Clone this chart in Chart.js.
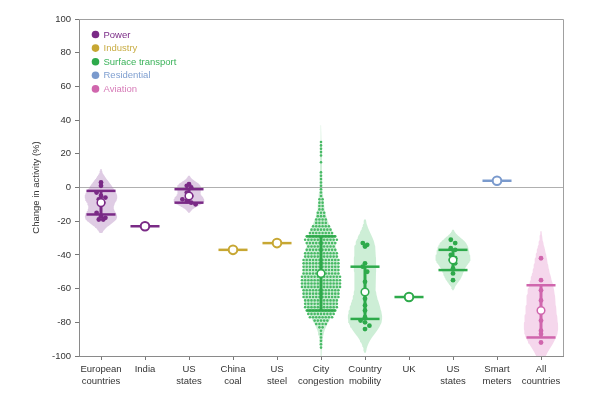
<!DOCTYPE html>
<html>
<head>
<meta charset="utf-8">
<script src="https://cdn.jsdelivr.net/npm/chart.js@4.4.0/dist/chart.umd.min.js"></script>
<style>
  html, body { margin: 0; padding: 0; background: #fff; }
</style>
</head>
<body>
<canvas id="chart" width="594" height="393"></canvas>
<script>
// categories along the x axis (two-line labels)
const categories = [
    ['European', 'countries'], 'India', ['US', 'states'], ['China', 'coal'], ['US', 'steel'],
    ['City', 'congestion'], ['Country', 'mobility'], 'UK', ['US', 'states'], ['Smart', 'meters'], ['All', 'countries']
];
const sectors = ['Power', 'Industry', 'Surface transport', 'Residential', 'Aviation'];
const groupSector = [0, 0, 0, 1, 1, 2, 2, 2, 2, 3, 4];

// summary values per category (%), null where there is no spread
const medians        = [-9, -23, -5, -37, -33, -51, -62, -65, -43, 4, -73];
const upperQuartiles = [-2, null, -1, null, null, -29, -47, null, -37, null, -58];
const lowerQuartiles = [-16, null, -9, null, null, -73, -78, null, -49, null, -89];

// individual observations
const europeValues = [3, 1, -3, -5, -6, -7, -9, -15, -17, -18, -19, -19];
const usPowerValues = [2, 1, 0, -3, -5, -7, -8, -9, -10];
const mobilityValues = [-33, -34, -35, -45, -47, -50, -56, -62, -66, -70, -73, -77, -79, -80, -82, -84];
const usTrafficValues = [-31, -33, -36, -37, -40, -42, -43, -45, -48, -51, -55];
const aviationValues = [-42, -55, -61, -67, -73, -79, -85, -87, -92];

// city congestion: number of cities at each level
const cityLevels = [27, 25, 23, 21, 19, 17, 15, 13, 11, 9, 7, 5, 3, 1, -1, -3, -5, -7, -9, -11, -13, -15, -17, -19,
    -21, -23, -25, -27, -29, -31, -33, -35, -37, -39, -41, -43, -45, -47, -49, -51, -53, -55, -57, -59,
    -61, -63, -65, -67, -69, -71, -73, -75, -77, -79, -81, -83, -85, -87, -89, -91, -93, -95];
const cityCounts = [1, 1, 1, 1, 1, 0, 1, 0, 0, 1, 1, 1, 1, 1, 1, 1, 1, 2, 2, 2, 2, 3, 3, 4,
    4, 6, 7, 8, 10, 11, 10, 9, 10, 11, 11, 12, 12, 12, 12, 12, 13, 13, 13, 13,
    12, 12, 12, 11, 11, 11, 10, 9, 8, 5, 4, 2, 1, 1, 1, 1, 1, 1];

const cityValues = [];
cityLevels.forEach((lv, i) => { for (let k = 0; k < cityCounts[i]; k++) cityValues.push(lv); });

const groupValues = { 0: europeValues, 2: usPowerValues, 5: cityValues, 6: mobilityValues, 8: usTrafficValues, 10: aviationValues };

// styling
const sectorColors = ['#7a2a86', '#c7a733', '#2eaa4b', '#7a9acd', '#d066ad'];
const sectorText   = ['#7a2a86', '#c9ad45', '#3bb35a', '#7f9fd0', '#d77cb8'];
const sectorFills  = ['rgba(170,120,185,0.38)', 'rgba(200,170,60,0.3)', 'rgba(90,200,120,0.3)', 'rgba(120,150,200,0.3)', 'rgba(225,140,200,0.35)'];
const violinStyle = {
    0: { bw: 4, half: 0.37 }, 2: { bw: 2.5, half: 0.35 }, 5: { bw: 5, half: 0.42 },
    6: { bw: 7, half: 0.39 }, 8: { bw: 3, half: 0.4 }, 10: { bw: 8, half: 0.39 }
};
const barHalf = 0.33;

function density(vals, bw, y) {
    let s = 0;
    for (const v of vals) { const z = (y - v) / bw; s += Math.exp(-0.5 * z * z); }
    return s;
}

function violinPoints(i, vals, bw, half) {
    const hi = Math.max(...vals) + 2 * bw, lo = Math.min(...vals) - 2 * bw;
    const n = 90, ys = [];
    for (let k = 0; k <= n; k++) ys.push(hi - (hi - lo) * k / n);
    const d = ys.map(y => density(vals, bw, y));
    const m = Math.max(...d);
    const right = ys.map((y, k) => ({ x: i + half * d[k] / m, y: y }));
    const left = ys.map((y, k) => ({ x: i - half * d[k] / m, y: y })).reverse();
    return right.concat(left);
}

function swarm(i, vals, bin, gap) {
    const rows = {};
    vals.forEach(v => { const k = Math.round(v / bin); (rows[k] = rows[k] || []).push(v); });
    const pts = [];
    Object.values(rows).forEach(r => r.forEach((v, j) => pts.push({ x: i + (j - (r.length - 1) / 2) * gap, y: v })));
    return pts;
}

const datasets = [];
categories.forEach((c, i) => {
    const s = groupSector[i];
    const col = sectorColors[s];
    const vals = groupValues[i];
    if (vals) {
        const st = violinStyle[i];
        datasets.push({
            data: violinPoints(i, vals, st.bw, st.half), showLine: true, fill: 'shape',
            backgroundColor: sectorFills[s], borderColor: 'rgba(0,0,0,0)', borderWidth: 0,
            pointRadius: 0, tension: 0, order: 10
        });
        const big = i === 5;
        datasets.push({
            data: swarm(i, vals, big ? 2 : 4, big ? 0.072 : 0.1),
            backgroundColor: big ? '#49ba66' : col, borderWidth: 0,
            pointRadius: big ? 1.3 : 2.4, order: 6
        });
        datasets.push({
            data: [{ x: i, y: upperQuartiles[i] }, { x: i, y: lowerQuartiles[i] }], showLine: true,
            borderColor: col, borderWidth: 3, pointRadius: 0, order: 4
        });
        [upperQuartiles[i], lowerQuartiles[i]].forEach(q => {
            datasets.push({
                data: [{ x: i - barHalf, y: q }, { x: i + barHalf, y: q }], showLine: true,
                borderColor: col, borderWidth: 2.5, pointRadius: 0, order: 3
            });
        });
    } else {
        datasets.push({
            data: [{ x: i - barHalf, y: medians[i] }, { x: i + barHalf, y: medians[i] }], showLine: true,
            borderColor: col, borderWidth: 2.5, pointRadius: 0, order: 3
        });
    }
    datasets.push({
        data: [{ x: i, y: medians[i] }], backgroundColor: '#fff', borderColor: col,
        borderWidth: vals ? 1.5 : 2, pointRadius: vals ? 3.8 : 4.3, order: 1
    });
});

const framePlugin = {
    id: 'frame',
    beforeDatasetsDraw(chart) {
        const { ctx, chartArea: a } = chart;
        ctx.save();
        ctx.strokeStyle = '#a0a0a0';
        ctx.lineWidth = 1;
        ctx.beginPath();
        ctx.moveTo(a.left, a.top + 0.5);
        ctx.lineTo(a.right + 0.5, a.top + 0.5);
        ctx.lineTo(a.right + 0.5, a.bottom);
        ctx.stroke();
        ctx.restore();
    },
    afterDatasetsDraw(chart) {
        const { ctx, chartArea: a } = chart;
        ctx.save();
        ctx.font = '9.5px "Liberation Sans", Arial, sans-serif';
        ctx.textBaseline = 'middle';
        sectors.forEach((name, k) => {
            const y = a.top + 15.5 + k * 13.6;
            ctx.fillStyle = sectorColors[k];
            ctx.beginPath();
            ctx.arc(a.left + 16.5, y, 3.8, 0, Math.PI * 2);
            ctx.fill();
            ctx.fillStyle = sectorText[k];
            ctx.fillText(name, a.left + 24.5, y + 0.5);
        });
        ctx.restore();
    }
};

const tickFont = { family: '"Liberation Sans", Arial, sans-serif', size: 9.5, lineHeight: 1.3 };

new Chart(document.getElementById('chart'), {
    type: 'scatter',
    data: { datasets: datasets },
    options: {
        responsive: false,
        animation: false,
        devicePixelRatio: 1,
        layout: { padding: { top: 19, right: 31, left: 0, bottom: 0 } },
        plugins: { legend: { display: false }, tooltip: { enabled: false } },
        scales: {
            x: {
                type: 'linear', min: -0.5, max: 10.5,
                afterBuildTicks: s => { s.ticks = categories.map((c, i) => ({ value: i })); },
                afterFit: s => { s.height = 37; },
                ticks: { callback: v => categories[v], font: tickFont, color: '#333', maxRotation: 0, autoSkip: false, padding: 3 },
                grid: { drawOnChartArea: false, tickLength: 4, tickColor: '#777' },
                border: { color: '#8a8a8a' }
            },
            y: {
                min: -100, max: 100,
                afterFit: s => { s.width = 79; },
                ticks: { stepSize: 20, font: tickFont, color: '#333', padding: 4 },
                grid: {
                    color: c => (c.tick && c.tick.value === 0 ? '#b0b0b0' : 'rgba(0,0,0,0)'),
                    tickColor: '#777', tickLength: 4
                },
                border: { color: '#8a8a8a' },
                title: { display: true, text: 'Change in activity (%)', font: tickFont, color: '#333', padding: { top: 30, bottom: 0 } }
            }
        }
    },
    plugins: [framePlugin]
});
</script>
</body>
</html>
